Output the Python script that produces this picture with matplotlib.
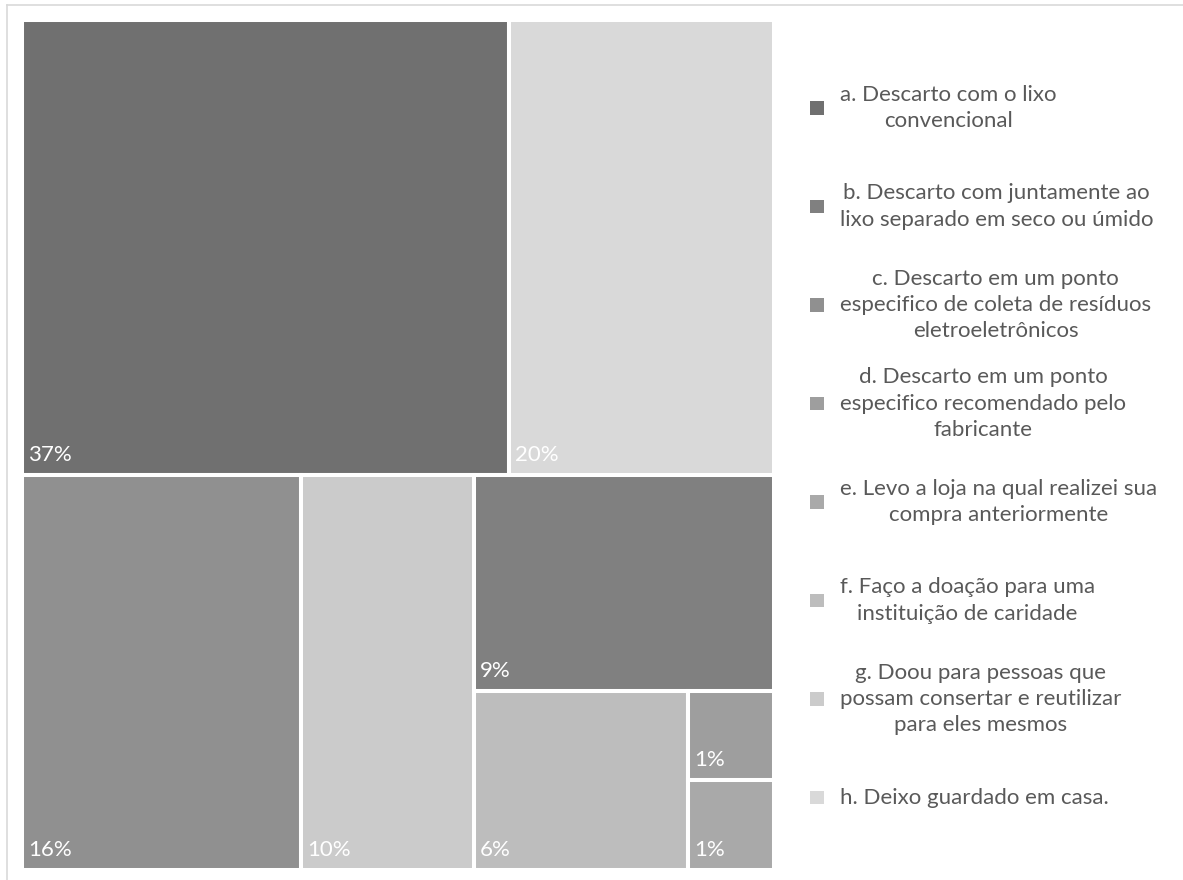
import numpy as np
import matplotlib.pyplot as plt
from matplotlib.patches import Rectangle
from matplotlib.lines import Line2D

# categories (legend order), label text shown in the boxes, box size read from the areas
categories = [
    "a. Descarto com o lixo\nconvencional",
    "b. Descarto com juntamente ao\nlixo separado em seco ou úmido",
    "c. Descarto em um ponto\nespecifico de coleta de resíduos\neletroeletrônicos",
    "d. Descarto em um ponto\nespecifico recomendado pelo\nfabricante",
    "e. Levo a loja na qual realizei sua\ncompra anteriormente",
    "f. Faço a doação para uma\ninstituição de caridade",
    "g. Doou para pessoas que\npossam consertar e reutilizar\npara eles mesmos",
    "h. Deixo guardado em casa.",
]
pct_labels = ["37%", "9%", "16%", "1%", "1%", "6%", "10%", "20%"]
sizes = [34.6, 10.1, 17.2, 1.2, 1.2, 6.0, 10.7, 18.8]
colors = ["#707070", "#808080", "#909090", "#9e9e9e", "#a9a9a9", "#bdbdbd", "#cbcbcb", "#d9d9d9"]

plt.rcParams['font.family'] = ['Lato', 'DejaVu Sans']

W, H = 1183, 880
fig = plt.figure(figsize=(W / 100, H / 100), dpi=100)

# outer chart border, only its top and left edges are in view
fig.add_artist(Line2D([7 / W, 1], [1 - 5.5 / H, 1 - 5.5 / H], transform=fig.transFigure,
                      color="#d9d9d9", linewidth=1.2))
fig.add_artist(Line2D([7 / W, 7 / W], [0, 1 - 5.5 / H], transform=fig.transFigure,
                      color="#d9d9d9", linewidth=1.2))

ax = fig.add_axes([22 / W, 10 / H, 752 / W, 850 / H])
bw, bh = 752, 850
ax.set_xlim(0, bw)
ax.set_ylim(0, bh)
ax.axis("off")


def layout(idx, x, y, w, h, out):
    # split the ordered items in two groups of near-equal sum, cut along the longer side
    if len(idx) == 1:
        out[idx[0]] = (x, y, w, h)
        return
    vals = np.array([sizes[i] for i in idx])
    cum = np.cumsum(vals)[:-1]
    k = int(np.argmin(np.abs(cum - vals.sum() / 2))) + 1
    f = cum[k - 1] / vals.sum()
    if w >= h:
        layout(idx[:k], x, y, w * f, h, out)
        layout(idx[k:], x + w * f, y, w * (1 - f), h, out)
    else:
        layout(idx[:k], x, y + h * (1 - f), w, h * f, out)
        layout(idx[k:], x, y, w, h * (1 - f), out)


order = list(np.argsort(-np.array(sizes), kind="stable"))
rects = {}
layout(order, 0, 0, bw, bh, rects)

for i, (x, y, w, h) in rects.items():
    ax.add_patch(Rectangle((x, y), w, h, facecolor=colors[i], edgecolor="white", linewidth=2.9))
    ax.annotate(pct_labels[i], (x, y), xytext=(6, 10), textcoords="offset pixels",
                ha="left", va="bottom", color="white", fontsize=16)

# legend
lax = fig.add_axes([0, 0, 1, 1])
lax.set_xlim(0, W)
lax.set_ylim(H, 0)
lax.axis("off")
ys = 108 + np.arange(len(categories)) * 98.5
lax.scatter(np.full(len(ys), 817), ys, marker="s", s=95, c=colors, linewidths=0)
for yy, lab in zip(ys, categories):
    lax.text(840, yy, lab, ha="left", va="center", multialignment="center",
             color="#595959", fontsize=16, linespacing=1.4)

fig.savefig("out.png", dpi=100)
